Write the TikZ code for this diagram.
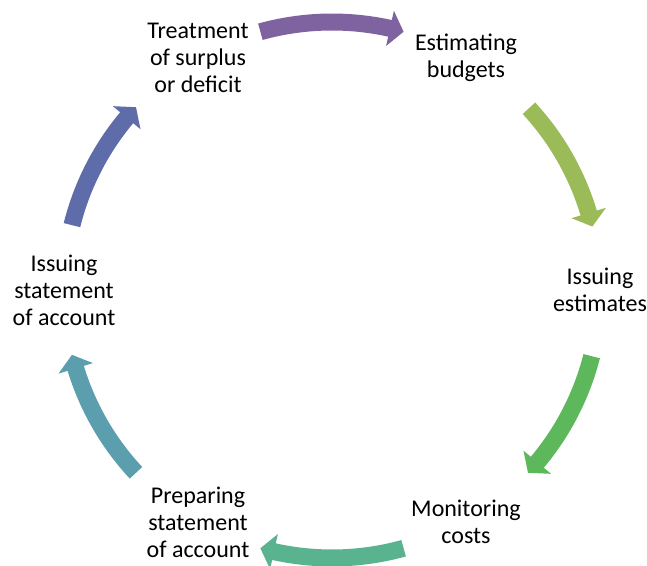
\documentclass[tikz,border=0pt]{standalone}
\usepackage{fontspec}
\setmainfont{Carlito}
\definecolor{arcA}{HTML}{7F63A1}
\definecolor{arcB}{HTML}{9BBB59}
\definecolor{arcC}{HTML}{5DB85C}
\definecolor{arcD}{HTML}{5AB38F}
\definecolor{arcE}{HTML}{5B9EAE}
\definecolor{arcF}{HTML}{5F6CAA}
\begin{document}
\begin{tikzpicture}[x=0.75pt,y=0.75pt,
		stage/.style={align=center, font=\fontsize{18}{20.2}\selectfont}]
		\pgfmathsetmacro{\R}{268}
		\pgfmathsetmacro{\ro}{\R+8.5}
		\pgfmathsetmacro{\ri}{\R-8.5}
		\pgfmathsetmacro{\ho}{\R+18}
		\pgfmathsetmacro{\hi}{\R-18}
		\useasboundingbox (-332,-275) rectangle (315,290);
		% the six stages
		\node[stage] (treat) at (120:\R) {Treatment\\of surplus\\or deficit};
		\node[stage] (estim) at (60:\R) {Estimating\\budgets};
		\node[stage] (issest) at (0:\R) {Issuing\\estimates};
		\node[stage] (monit) at (-60:\R) {Monitoring\\costs};
		\node[stage] (prep) at (-120:\R) {Preparing\\statement\\of account};
		\node[stage] (isssta) at (180:\R) {Issuing\\statement\\of account};
		% curved block arrows, clockwise
		\foreach \a/\b/\c in {105.5/74.5/arcA, 42.7/13.7/arcB, -14.3/-43/arcC,
				-74.5/-105.5/arcD, -137/-166/arcE, 166/137/arcF}{
			\pgfmathsetmacro{\hb}{\b+3}
			\fill[\c] (\a:\ro) arc[start angle=\a, end angle=\hb, radius=\ro]
				-- (\hb:\ho) -- (\b:\R) -- (\hb:\hi) -- (\hb:\ri)
				arc[start angle=\hb, end angle=\a, radius=\ri] -- cycle;
		}
	\end{tikzpicture}
\end{document}
